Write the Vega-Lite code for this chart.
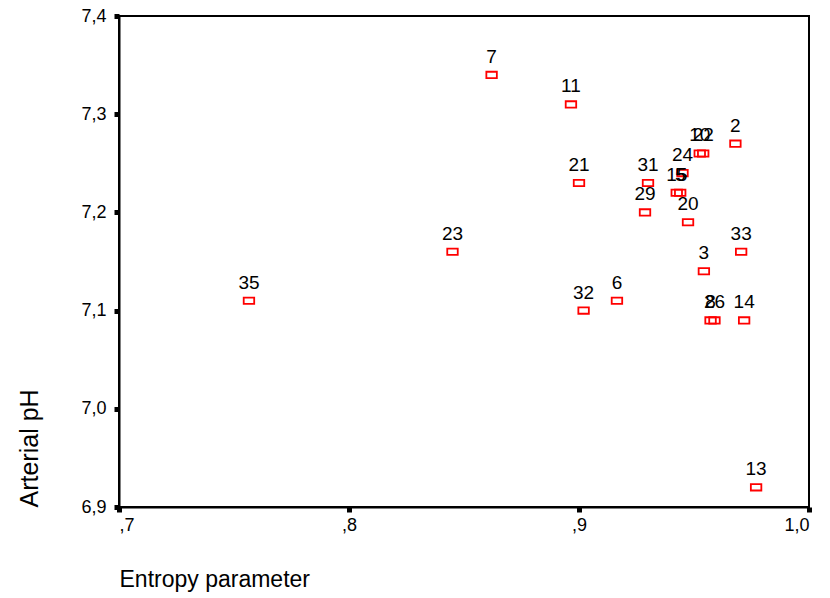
{
  "$schema": "https://vega.github.io/schema/vega-lite/v6.json",
  "autosize": "none",
  "width": 690,
  "height": 491,
  "padding": {"left": 119, "top": 16, "right": 21, "bottom": 91},
  "background": "white",
  "config": {
    "view": {"stroke": "black", "strokeWidth": 2},
    "font": "Liberation Sans"
  },
  "data": {
    "values": [
      {"id": "35", "entropy": 0.7565, "ph": 7.11},
      {"id": "23", "entropy": 0.845, "ph": 7.16},
      {"id": "7", "entropy": 0.862, "ph": 7.34},
      {"id": "11", "entropy": 0.8965, "ph": 7.31},
      {"id": "21", "entropy": 0.9, "ph": 7.23},
      {"id": "32", "entropy": 0.902, "ph": 7.10},
      {"id": "6", "entropy": 0.9165, "ph": 7.11},
      {"id": "31", "entropy": 0.930, "ph": 7.23},
      {"id": "29", "entropy": 0.9287, "ph": 7.20},
      {"id": "24", "entropy": 0.945, "ph": 7.24},
      {"id": "15", "entropy": 0.9425, "ph": 7.22},
      {"id": "5", "entropy": 0.944, "ph": 7.22},
      {"id": "20", "entropy": 0.9474, "ph": 7.19},
      {"id": "10", "entropy": 0.9525, "ph": 7.26},
      {"id": "22", "entropy": 0.954, "ph": 7.26},
      {"id": "2", "entropy": 0.968, "ph": 7.27},
      {"id": "3", "entropy": 0.9543, "ph": 7.14},
      {"id": "33", "entropy": 0.9705, "ph": 7.16},
      {"id": "8", "entropy": 0.9572, "ph": 7.09},
      {"id": "26", "entropy": 0.9589, "ph": 7.09},
      {"id": "14", "entropy": 0.9718, "ph": 7.09},
      {"id": "13", "entropy": 0.977, "ph": 6.92}
    ]
  },
  "encoding": {
    "x": {
      "field": "entropy", "type": "quantitative",
      "scale": {"domain": [0.7, 1.0], "nice": false, "zero": false},
      "axis": {
        "title": "Entropy parameter",
        "titleFont": "Liberation Sans", "titleFontSize": 23, "titleFontWeight": "normal",
        "titleColor": "black", "titleAnchor": "start", "titleAlign": "left", "titlePadding": 34,
        "values": [0.7, 0.8, 0.9, 1.0],
        "labelExpr": "datum.value < 1 ? replace(format(datum.value, '.1f'), '0.', ',') : replace(format(datum.value, '.1f'), '.', ',')",
        "labelFontSize": 18, "labelColor": "black", "labelPadding": 4,
        "tickColor": "black", "tickSize": 5, "tickWidth": 5,
        "domainColor": "black", "domainWidth": 2,
        "grid": false
      }
    },
    "y": {
      "field": "ph", "type": "quantitative",
      "scale": {"domain": [6.9, 7.4], "nice": false, "zero": false},
      "axis": {
        "title": "Arterial pH",
        "titleFont": "Liberation Sans", "titleFontSize": 25, "titleFontWeight": "normal",
        "titleColor": "black", "titleAnchor": "start", "titlePadding": 38,
        "values": [6.9, 7.0, 7.1, 7.2, 7.3, 7.4],
        "labelExpr": "replace(format(datum.value, '.1f'), '.', ',')",
        "labelFontSize": 18, "labelColor": "black", "labelPadding": 8,
        "tickColor": "black", "tickSize": 5, "tickWidth": 5,
        "domainColor": "black", "domainWidth": 2,
        "grid": false
      }
    }
  },
  "layer": [
    {
      "mark": {
        "type": "point",
        "shape": "M-1,-0.6H1V0.6H-1Z",
        "size": 110,
        "filled": false,
        "stroke": "#ff0000",
        "strokeWidth": 1.8,
        "opacity": 1
      }
    },
    {
      "mark": {
        "type": "text",
        "dy": -18,
        "fontSize": 19,
        "font": "Liberation Sans",
        "color": "black",
        "baseline": "middle",
        "align": "center"
      },
      "encoding": {"text": {"field": "id"}}
    }
  ]
}
